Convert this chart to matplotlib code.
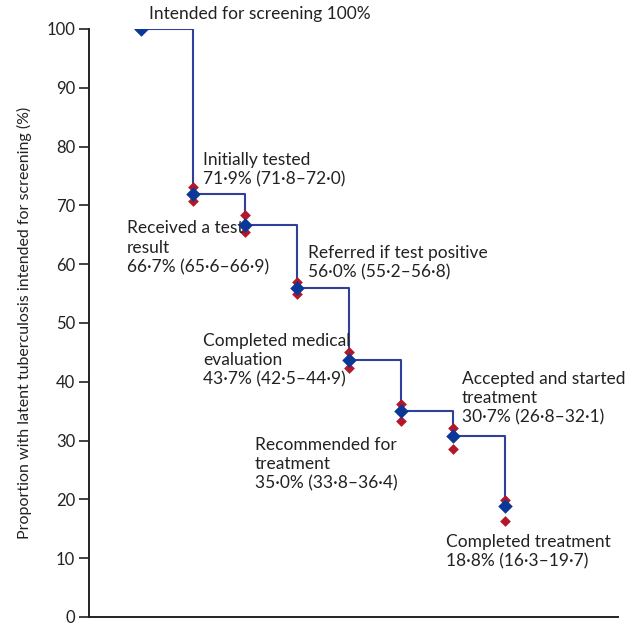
import matplotlib
matplotlib.use("Agg")
import matplotlib.pyplot as plt

stages = ["Intended for screening", "Initially tested", "Received a test\nresult",
          "Referred if test positive", "Completed medical\nevaluation",
          "Recommended for\ntreatment", "Accepted and started\ntreatment",
          "Completed treatment"]
values = [100.0, 71.9, 66.7, 56.0, 43.7, 35.0, 30.7, 18.8]
ci_low = [None, 71.8, 65.6, 55.2, 42.5, 33.8, 26.8, 16.3]
ci_high = [None, 72.0, 66.9, 56.8, 44.9, 36.4, 32.1, 19.7]
# positions of the red interval markers as drawn in the picture
marker_high = [None, 73.1, 68.3, 57.0, 45.0, 36.2, 32.1, 19.9]
marker_low = [None, 70.7, 65.4, 54.9, 42.3, 33.4, 28.6, 16.4]

def fmt(v):
    return f"{v:.1f}".replace(".", "·")

labels = ["Intended for screening 100%"]
for i in range(1, len(stages)):
    labels.append(f"{stages[i]}\n{fmt(values[i])}% ({fmt(ci_low[i])}–{fmt(ci_high[i])})")

# label anchor positions (left edge x, vertical centre y) in data coords
label_pos = [(1.15, 102.6), (2.19, 76.1), (0.73, 62.8), (4.21, 60.3),
             (2.19, 43.7), (3.19, 26.0), (7.17, 37.2), (6.87, 11.05)]

plt.rcParams['font.family'] = ['Lato', 'DejaVu Sans']
fig = plt.figure(figsize=(6.25, 6.26), dpi=100)
ax = fig.add_axes([0.1424, 0.0144, 0.8466, 0.9393])

x = list(range(1, len(values) + 1))
ax.plot(x, values, drawstyle='steps-post', color='#2f3f9c', lw=1.5, zorder=2)
xs = [xi for xi, lo in zip(x, marker_low) if lo is not None]
ax.scatter(xs, [v for v in marker_low if v is not None], marker='D', s=30, color='#b3172a', zorder=3, linewidths=0)
ax.scatter(xs, [v for v in marker_high if v is not None], marker='D', s=30, color='#b3172a', zorder=3, linewidths=0)
ax.scatter(x, values, marker='D', s=55, color='#0b3896', zorder=4, linewidths=0)

for lab, (lx, ly) in zip(labels, label_pos):
    ax.text(lx, ly, lab, ha='left', va='center', fontsize=12.5, color='#222222',
            linespacing=1.25, clip_on=False)

ax.set_xlim(0, 10.17)
ax.set_ylim(0, 100)
ax.set_yticks(range(0, 101, 10))
ax.set_xticks([])
ax.spines['top'].set_visible(False)
ax.spines['right'].set_visible(False)
for s in ('left', 'bottom'):
    ax.spines[s].set_linewidth(1.4)
    ax.spines[s].set_color('#222222')
ax.tick_params(axis='y', labelsize=12, length=7, width=1.2, colors='#222222', pad=3)
ax.set_ylabel("Proportion with latent tuberculosis intended for screening (%)",
              fontsize=11.5, color='#222222', labelpad=10)

fig.savefig("out.png", dpi=100)
